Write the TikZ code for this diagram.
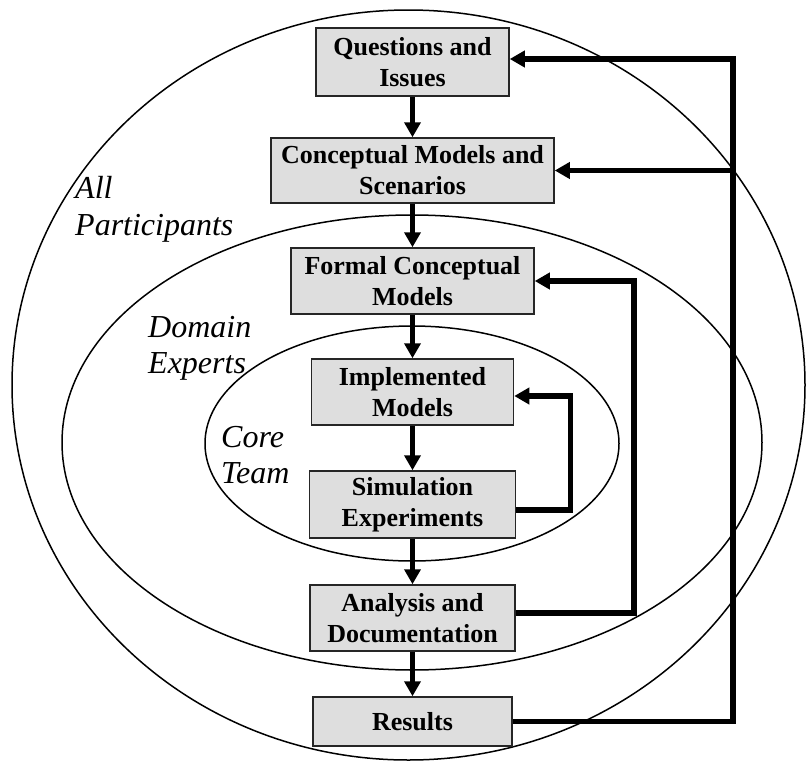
\documentclass[tikz,border=0pt]{standalone}
\usepackage{fontspec}
\setmainfont{Liberation Serif}
\usetikzlibrary{arrows.meta,calc}
\begin{document}
\begin{tikzpicture}[x=1pt,y=-1pt,
  box/.style={draw=black!85, line width=1.5pt, fill=black!13, align=center, inner sep=0pt,
    font=\fontsize{26}{31}\selectfont\bfseries},
  ring/.style={draw=black, line width=1.5pt},
  lbl/.style={anchor=base west, inner sep=0pt, font=\fontsize{32}{37}\selectfont\itshape},
  arr/.style={line width=5.5pt, line join=miter, -{Triangle[length=15pt,width=16pt]}}]

\useasboundingbox (0,0) rectangle (806,763);

% ellipses
\draw[ring] (408.5,385) ellipse [x radius=396.5pt, y radius=375pt];
\draw[ring] (412,442.5) ellipse [x radius=350pt, y radius=227.5pt];
\draw[ring] (412,443.5) ellipse [x radius=207pt, y radius=117.5pt];

% boxes
\node[box, minimum width=193pt, minimum height=68pt] (q)    at (412.5,62)    {Questions and\\Issues};
\node[box, minimum width=283pt, minimum height=65pt] (conc) at (412.5,170.5) {Conceptual Models and\\Scenarios};
\node[box, minimum width=243pt, minimum height=66pt] (form) at (412.5,281)   {Formal Conceptual\\Models};
\node[box, minimum width=202pt, minimum height=66pt] (impl) at (412.5,392)   {Implemented\\Models};
\node[box, minimum width=206pt, minimum height=67pt] (sim)  at (412.5,504.5) {Simulation\\Experiments};
\node[box, minimum width=205pt, minimum height=66pt] (ana)  at (412.5,618)   {Analysis and\\Documentation};
\node[box, minimum width=199pt, minimum height=49pt] (res)  at (412.5,721.5) {Results};

% labels
\node[lbl] (l1a) at (75,198) {All};
\node[lbl] (l1b) at (75,235) {Participants};
\node[lbl] (l2a) at (148,337) {Domain};
\node[lbl] (l2b) at (148,373) {Experts};
\node[lbl] (l3a) at (221,447) {Core};
\node[lbl] (l3b) at (221,483) {Team};

% main flow
\draw[arr] (q.south) -- (conc.north);
\draw[arr] (conc.south) -- (form.north);
\draw[arr] (form.south) -- (impl.north);
\draw[arr] (impl.south) -- (sim.north);
\draw[arr] (sim.south) -- (ana.north);
\draw[arr] (ana.south) -- (res.north);

% feedback
\coordinate (bus) at (733,0);
\coordinate (qin) at ([yshift=3pt]q.east);
\coordinate (implin) at ([yshift=-4pt]impl.east);
\coordinate (anaout) at ([yshift=5pt]ana.east);
\coordinate (simout) at ([yshift=-5.5pt]sim.east);
\draw[arr] (res.east) -| (bus |- qin) -- (qin);
\draw[arr] (bus |- conc.east) -- (conc.east);
\draw[arr] (anaout) -- ++(118,0) |- (form.east);
\draw[arr] (simout) -- ++(54,0) |- (implin);
\end{tikzpicture}
\end{document}
